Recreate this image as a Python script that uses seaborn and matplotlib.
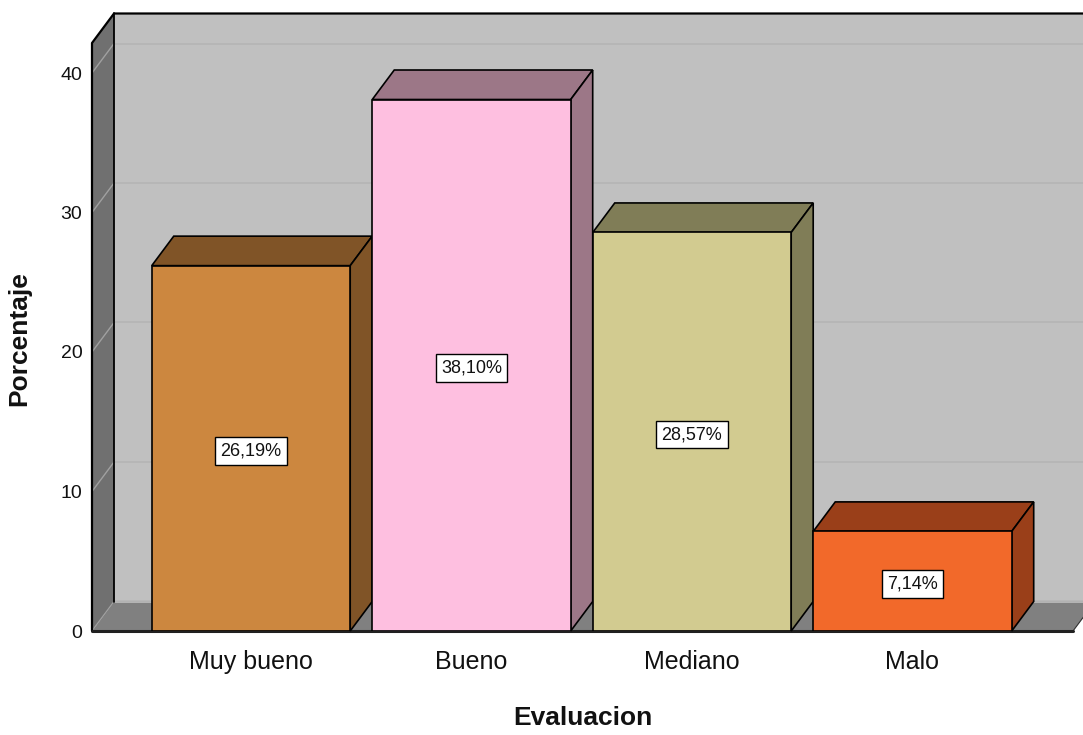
# spss_style_3d_bars.py
# Evaluacion bar chart with a fake 3D box, drawn with seaborn + matplotlib patches

import matplotlib
matplotlib.use("Agg")
import matplotlib.pyplot as plt
from matplotlib.patches import Polygon
import seaborn as sns

# Data
categories = ['Muy bueno', 'Bueno', 'Mediano', 'Malo']
percentages = [26.19, 38.10, 28.57, 7.14]
front_colors = ['#CC873F', '#FEBFE0', '#D2CB90', '#F2692A']
side_colors = ['#805427', '#9C7787', '#807D57', '#9A3F19']
y_ticks = [0, 10, 20, 30, 40]

sns.set_style('white')
plt.rcParams['font.family'] = ['Liberation Sans', 'DejaVu Sans']
plt.rcParams['text.color'] = '#111111'
plt.rcParams['xtick.color'] = '#111111'
plt.rcParams['ytick.color'] = '#111111'
plt.rcParams['axes.labelcolor'] = '#111111'

W, H = 1083, 735
fig = plt.figure(figsize=(W / 100, H / 100), dpi=100)
# axes box = front plane of the chart (pixels: left 92, bottom 631, top 43, right 1073)
ax = fig.add_axes([92 / W, (H - 631) / H, 981 / W, 588 / H])

xmin, xmax = -0.721, 3.728
ytop = 588 / 13.95

# depth offset in data units (22 px right, 29.5 px up)
dx = 22 * (xmax - xmin) / 981
dy = 29.5 * ytop / 588

# front faces of the bars
sns.barplot(x=categories, y=percentages, hue=categories, palette=front_colors,
            legend=False, width=0.9, edgecolor='black', linewidth=1.2,
            saturation=1, ax=ax, zorder=3)

def poly(pts, fc, ec='black', lw=1.0, z=1):
    ax.add_patch(Polygon(pts, closed=True, facecolor=fc, edgecolor=ec,
                         linewidth=lw, zorder=z, clip_on=False))

# back wall
far = xmax + 1
poly([(xmin + dx, dy), (far, dy), (far, ytop + dy), (xmin + dx, ytop + dy)],
     '#C0C0C0', ec='none', z=0)
# floor
poly([(xmin, 0), (xmax, 0), (xmax + dx, dy), (xmin + dx, dy)],
     '#808080', ec='#303030', lw=0.8, z=0.5)
# left wall
poly([(xmin, 0), (xmin, ytop), (xmin + dx, ytop + dy), (xmin + dx, dy)],
     '#707070', ec='none', z=0.5)

# grid lines on walls
for v in y_ticks:
    ax.plot([xmin + dx, far], [v + dy, v + dy], color='#B6B6B6', lw=1.4,
            zorder=0.8, clip_on=False)
    ax.plot([xmin, xmin + dx], [v, v + dy], color='#A0A0A0', lw=1.0,
            zorder=0.8, clip_on=False)

# black outline of the box
ax.plot([xmin, xmin, xmin + dx, far], [0, ytop, ytop + dy, ytop + dy],
        color='black', lw=1.6, zorder=1, clip_on=False)
ax.plot([xmin + dx, xmin + dx], [dy, ytop + dy], color='black', lw=1.3,
        zorder=1, clip_on=False)
ax.plot([xmin, xmax], [0, 0], color='#202020', lw=2.2, zorder=1, clip_on=False)

# top and side faces
for i, (v, sc) in enumerate(zip(percentages, side_colors)):
    x0, x1 = i - 0.45, i + 0.45
    poly([(x0, v), (x1, v), (x1 + dx, v + dy), (x0 + dx, v + dy)], sc, lw=1.2, z=2)
    poly([(x1, 0), (x1 + dx, dy), (x1 + dx, v + dy), (x1, v)], sc, lw=1.2, z=2)
    label = f"{v:.2f}".replace('.', ',') + '%'
    ax.text(i, v / 2 - 0.2, label, ha='center', va='center', fontsize=13, zorder=5,
            bbox=dict(boxstyle='square,pad=0.3', fc='white', ec='black', lw=1.0))

ax.set_xlim(xmin, xmax)
ax.set_ylim(0, ytop)

for s in ax.spines.values():
    s.set_visible(False)
ax.set_yticks(y_ticks)
ax.tick_params(axis='both', length=0)
ax.tick_params(axis='y', labelsize=14, pad=7)
ax.tick_params(axis='x', labelsize=18, pad=14)

ax.set_xlabel('Evaluacion', fontsize=19, fontweight='bold')
ax.set_ylabel('Porcentaje', fontsize=19, fontweight='bold')
ax.xaxis.set_label_coords(0.5005, -0.128)
ax.yaxis.set_label_coords(-0.062, 0.498)
ax.xaxis.label.set_va('top')

fig.savefig('out.png', dpi=100)
